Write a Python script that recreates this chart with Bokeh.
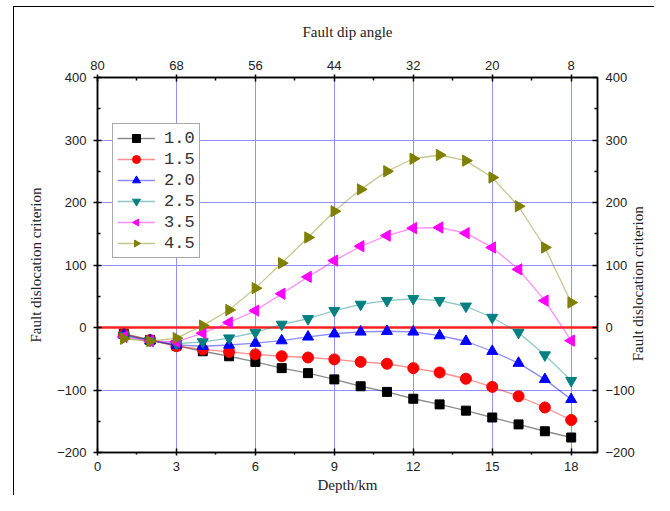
import numpy as np
from bokeh.plotting import figure
from bokeh.models import LinearAxis, Range1d, Span, FixedTicker, ColumnDataSource, Label
from bokeh.embed import file_html
from bokeh.resources import INLINE

# ---- data ----
depth = list(range(1, 19))
s10 = [-10, -20, -29, -38, -46, -55, -65, -73, -83, -94, -103, -114, -123, -133, -144, -155, -166, -176]
s15 = [-11, -20, -30, -35, -39, -43, -46, -48, -51, -55, -58, -65, -72, -82, -95, -110, -128, -148]
s20 = [-12, -21, -28, -30, -28, -25, -21, -15, -10, -7, -6, -7, -13, -22, -38, -57, -83, -115]
s25 = [-13, -21, -26, -23, -17, -8, 5, 14, 27, 37, 43, 46, 43, 34, 16, -8, -44, -85]
s35 = [-15, -22, -23, -9, 8, 27, 54, 81, 107, 130, 147, 159, 160, 151, 128, 93, 43, -21]
s45 = [-18, -22, -17, 3, 28, 63, 103, 144, 186, 221, 250, 270, 276, 267, 240, 194, 128, 40]
series_labels = ["1.0", "1.5", "2.0", "2.5", "3.5", "4.5"]

x_ticks = [0, 3, 6, 9, 12, 15, 18]
x_minor = [1.5, 4.5, 7.5, 10.5, 13.5, 16.5]
dip_labels = ["80", "68", "56", "44", "32", "20", "8"]
y_ticks = [-200, -100, 0, 100, 200, 300, 400]
y_minor = [-150, -50, 50, 150, 250, 350]

p = figure(frame_width=500, frame_height=375,
           min_border_left=83, min_border_right=57, min_border_top=70, min_border_bottom=43,
           x_range=Range1d(0, 19), y_range=Range1d(-200, 400),
           output_backend="svg", toolbar_location=None,
           x_axis_label="Depth/km", y_axis_label="Fault dislocation criterion")
p.margin = (6, 0, 0, 13)
p.styles = {"border-left": "1px solid black", "border-top": "1px solid black"}
p.background_fill_color = "white"
p.border_fill_color = "white"
p.outline_line_color = "black"
p.outline_line_width = 1.5

# grids
p.xgrid.ticker = FixedTicker(ticks=x_ticks)
p.ygrid.ticker = FixedTicker(ticks=y_ticks)
for g in (p.xgrid, p.ygrid):
    g.grid_line_color = "#9090ff"
    g.grid_line_width = 1

# zero line
p.add_layout(Span(location=0, dimension="width", line_color="#ff2020", line_width=2.5, level="underlay"))

colors = ["black", "#ff0000", "#0000ff", "#008080", "#ff00ff", "#808000"]
markers = ["square", "circle", "triangle", "inverted_triangle", "left", "right"]
sizes = [9, 11, 11, 11, 11, 11]
for ys, c, m, s, lab in zip([s10, s15, s20, s25, s35, s45], colors, markers, sizes, series_labels):
    src = ColumnDataSource(dict(x=depth, y=ys))
    p.line("x", "y", source=src, line_color=c, line_alpha=0.45, line_width=1.3, legend_label=lab)
    if m in ("left", "right"):
        ang = np.pi / 2 if m == "left" else -np.pi / 2
        p.ngon("x", "y", source=src, radius=6.5, radius_units="screen", n=3, angle=ang,
               fill_color=c, line_color=c, legend_label=lab)
    else:
        p.scatter("x", "y", source=src, marker=m, size=s,
                  fill_color=c, line_color=c, legend_label=lab)

# axes styling
def style_axis(ax):
    ax.axis_line_color = "black"
    ax.axis_line_width = 1.5
    ax.major_tick_line_color = "black"
    ax.major_tick_line_width = 1.5
    ax.minor_tick_line_color = "black"
    ax.minor_tick_line_width = 1.5
    ax.major_label_text_font = "Liberation Sans"
    ax.major_label_text_font_size = "13px"
    ax.major_label_text_color = "#222222"
    ax.axis_label_text_font = "Liberation Serif"
    ax.axis_label_text_font_size = "15px"
    ax.axis_label_text_font_style = "normal"
    ax.axis_label_text_color = "#222222"

xb = p.xaxis[0]
xb.ticker = FixedTicker(ticks=x_ticks, minor_ticks=x_minor)
style_axis(xb)
xb.major_tick_in = 4
xb.major_tick_out = 3
xb.minor_tick_in = 0
xb.minor_tick_out = 2
xb.major_label_standoff = 6
xb.axis_label_standoff = 3

yl = p.yaxis[0]
yl.ticker = FixedTicker(ticks=y_ticks, minor_ticks=y_minor)
style_axis(yl)
yl.major_tick_in = 4
yl.major_tick_out = 4
yl.minor_tick_in = 3
yl.minor_tick_out = 0
yl.major_label_standoff = 7
yl.axis_label_standoff = 10

xt = LinearAxis(axis_label="Fault dip angle",
                ticker=FixedTicker(ticks=x_ticks, minor_ticks=x_minor),
                major_label_overrides={t: l for t, l in zip(x_ticks, dip_labels)})
style_axis(xt)
xt.major_tick_in = 4
xt.major_tick_out = 3
xt.minor_tick_in = 3
xt.minor_tick_out = 0
xt.major_label_standoff = 5
xt.axis_label_standoff = 18
p.add_layout(xt, "above")

yr = LinearAxis(ticker=FixedTicker(ticks=y_ticks, minor_ticks=y_minor))
style_axis(yr)
yr.major_tick_in = 5
yr.major_tick_out = 0
yr.minor_tick_in = 3
yr.minor_tick_out = 0
yr.major_label_standoff = 8
p.add_layout(yr, "right")

# right-hand title, reading bottom-to-top like the left one
p.add_layout(Label(x=19, y=70, x_offset=40, text="Fault dislocation criterion",
                   angle=np.pi / 2, text_align="center", text_baseline="middle",
                   text_font="Liberation Serif", text_font_size="15px",
                   text_color="#222222"), "right")

# legend
lg = p.legend[0]
lg.location = (15, 194)
lg.margin = 0
lg.padding = 4
lg.spacing = 1
lg.glyph_width = 38
lg.glyph_height = 20
lg.label_height = 20
lg.label_standoff = 9
lg.label_text_font = "Liberation Mono"
lg.label_text_font_size = "17px"
lg.label_text_color = "#333333"
lg.border_line_color = "#555555"
lg.border_line_width = 1.2
lg.background_fill_color = "white"
lg.background_fill_alpha = 1

open("out.html", "w").write(file_html(p, INLINE))
